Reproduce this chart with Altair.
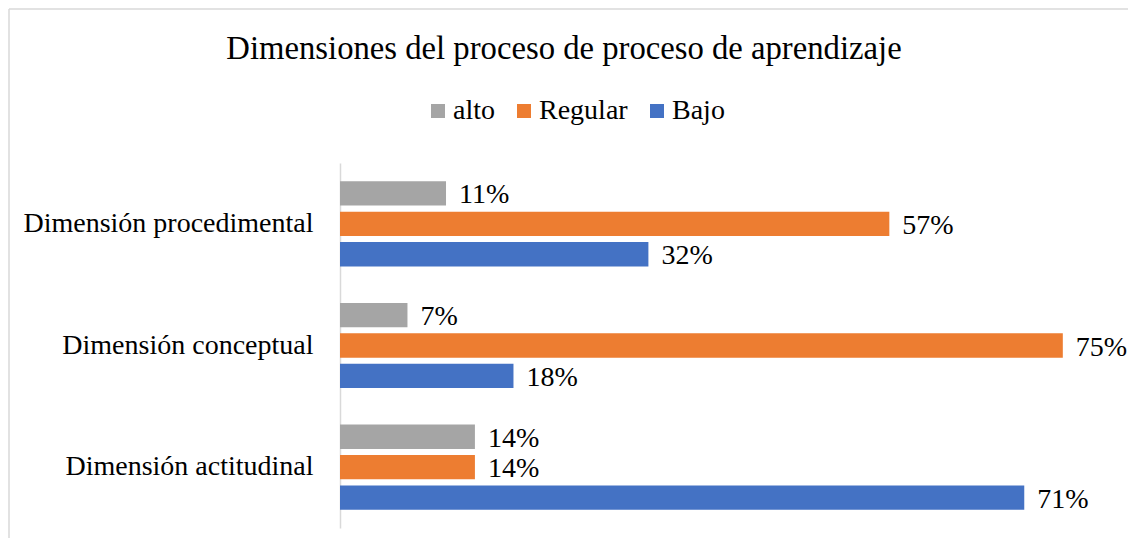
import altair as alt
import pandas as pd

categories = ["Dimensión procedimental", "Dimensión conceptual", "Dimensión actitudinal"]
series = ["alto", "Regular", "Bajo"]
alto = [11, 7, 14]
regular = [57, 75, 14]
bajo = [32, 18, 71]
colors = ["#a5a5a5", "#ed7d31", "#4472c4"]

rows = []
for i, c in enumerate(categories):
    for s, vals in zip(series, [alto, regular, bajo]):
        rows.append({"dim": c, "nivel": s, "valor": vals[i], "label": f"{vals[i]}%"})
df = pd.DataFrame(rows)

FONT = "Liberation Serif, Times New Roman, serif"

y = alt.Y("dim:N", sort=categories,
          scale=alt.Scale(paddingInner=0.3, paddingOuter=0.15),
          axis=alt.Axis(title=None, ticks=False, domainColor="#d9d9d9", domainWidth=1.5,
                        labelFontSize=28, labelColor="#000000", labelFont=FONT,
                        labelPadding=27, labelLimit=400, grid=False))
yoff = alt.YOffset("nivel:N", sort=series, scale=alt.Scale(paddingInner=0.2, paddingOuter=0))
x = alt.X("valor:Q", scale=alt.Scale(domain=[0, 80], nice=False), axis=None)

bars = alt.Chart(df).mark_bar().encode(
    x=x, y=y, yOffset=yoff,
    color=alt.Color("nivel:N", sort=series,
                    scale=alt.Scale(domain=series, range=colors),
                    legend=alt.Legend(orient="none", legendX=84, legendY=-66, padding=0,
                                      direction="horizontal", columns=3, title=None,
                                      symbolType="square", symbolSize=196, symbolStrokeWidth=0,
                                      labelFont=FONT, labelFontSize=28, labelColor="#000000",
                                      columnPadding=15, labelOffset=1)),
)

labels = alt.Chart(df).mark_text(align="left", baseline="middle", dx=13, dy=2,
                                 fontSize=28, font=FONT, color="#000000").encode(
    x=x, y=y, yOffset=yoff, text="label:N"
)

frame = pd.DataFrame({"a": [0]})
border_left = alt.Chart(frame).mark_rule(color="#d9d9d9", strokeWidth=1.5).encode(
    x=alt.value(-331), y=alt.value(-154), y2=alt.value(700))
border_top = alt.Chart(frame).mark_rule(color="#d9d9d9", strokeWidth=1.5).encode(
    x=alt.value(-331), x2=alt.value(1200), y=alt.value(-154))

chart = alt.layer(border_left, border_top, bars, labels).properties(
    width=771, height=365,
    autosize=alt.AutoSizeParams(type="none"),
    padding={"left": 332, "top": 155, "right": 17, "bottom": 10},
    title=alt.TitleParams("Dimensiones del proceso de proceso de aprendizaje",
                          font=FONT, fontSize=32.7, fontWeight="normal", color="#000000",
                          anchor="middle", frame="group", baseline="alphabetic",
                          dx=-161.5, offset=-83),
).configure_view(stroke=None)

chart.save("out.html", embed_options={"renderer": "svg", "actions": False})
